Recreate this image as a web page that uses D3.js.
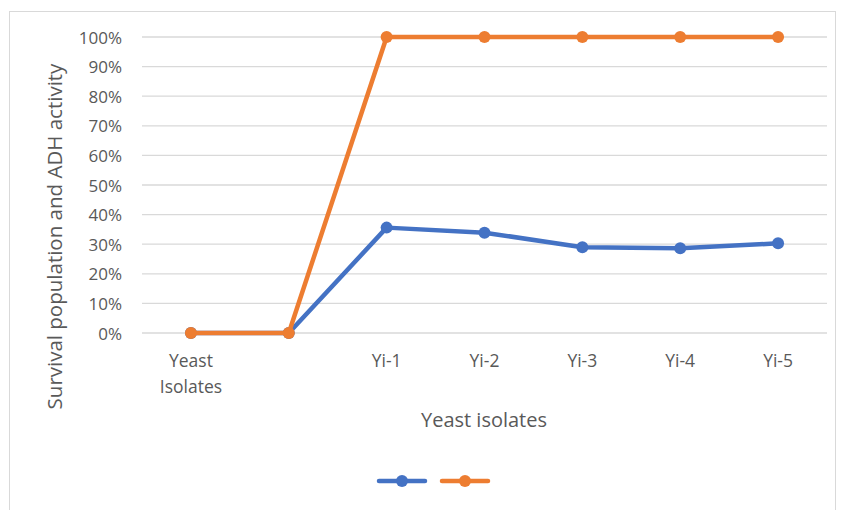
<!DOCTYPE html>
<html>
<head>
<meta charset="utf-8">
<script src="https://cdn.jsdelivr.net/npm/d3@7"></script>
<style>
  body { margin: 0; background: #fff; }
  svg text { font-family: "Open Sans", "Liberation Sans", sans-serif; fill: #595959; }
</style>
</head>
<body>
<svg id="chart" width="843" height="510"></svg>
<script>
// Category labels along the x axis
const categories = ["Yeast Isolates", "", "Yi-1", "Yi-2", "Yi-3", "Yi-4", "Yi-5"];
// Survival population (%) per isolate
const survival = [0, 0, 35.6, 33.9, 29.0, 28.6, 30.3];
// ADH activity (%) per isolate
const adhActivity = [0, 0, 100, 100, 100, 100, 100];
// Y axis ticks
const yTicks = [0, 10, 20, 30, 40, 50, 60, 70, 80, 90, 100];

const svg = d3.select("#chart");
const plot = { left: 142, right: 827, top: 37, bottom: 333 };

// Outer frame
svg.append("rect")
  .attr("x", 9.5).attr("y", 11.5)
  .attr("width", 826).attr("height", 505)
  .attr("fill", "#fff").attr("stroke", "#d9d9d9").attr("stroke-width", 1);

const x = d3.scalePoint().domain(d3.range(categories.length))
  .range([plot.left, plot.right]).padding(0.5);
const y = d3.scaleLinear().domain([0, 100]).range([plot.bottom, plot.top]);

// Horizontal gridlines
svg.append("g").selectAll("line").data(yTicks).join("line")
  .attr("x1", plot.left).attr("x2", plot.right)
  .attr("y1", d => y(d)).attr("y2", d => y(d))
  .attr("stroke", "#d9d9d9").attr("stroke-width", 1.3);

// Y axis labels
const yAxis = d3.axisLeft(y).tickValues(yTicks).tickFormat(d => d + "%").tickSize(0).tickPadding(0);
const gy = svg.append("g").attr("transform", `translate(${plot.left - 20},0)`).call(yAxis);
gy.select(".domain").remove();
gy.selectAll("text").attr("font-size", 17).attr("dy", "0.36em")
  .style("font-family", "'Open Sans', sans-serif").attr("fill", "#595959");

// X axis labels (multi-line)
const gx = svg.append("g");
categories.forEach((c, i) => {
  const words = c.split(" ");
  const t = gx.append("text").attr("x", x(i)).attr("y", 367)
    .attr("text-anchor", "middle").attr("font-size", 17.5);
  words.forEach((w, k) => {
    t.append("tspan").attr("x", x(i)).attr("dy", k === 0 ? 0 : 26).text(w);
  });
});

// Axis titles
svg.append("text").attr("x", 484).attr("y", 427)
  .attr("text-anchor", "middle").attr("font-size", 20).text("Yeast isolates");
svg.append("text")
  .attr("transform", `translate(62,236.5) rotate(-90)`)
  .attr("text-anchor", "middle").attr("font-size", 20.5)
  .text("Survival population and ADH activity");

const line = d3.line().x((d, i) => x(i)).y(d => y(d));
const series = [
  { values: survival, color: "#4472c4" },
  { values: adhActivity, color: "#ed7d31" }
];

series.forEach(s => {
  svg.append("path").datum(s.values)
    .attr("d", line).attr("fill", "none")
    .attr("stroke", s.color).attr("stroke-width", 4.5)
    .attr("stroke-linejoin", "round").attr("stroke-linecap", "round");
  svg.append("g").selectAll("circle").data(s.values).join("circle")
    .attr("cx", (d, i) => x(i)).attr("cy", d => y(d)).attr("r", 6)
    .attr("fill", s.color);
});

// Legend
const legend = svg.append("g");
series.forEach((s, i) => {
  const lx = 379 + i * 63;
  legend.append("line").attr("x1", lx).attr("x2", lx + 46)
    .attr("y1", 481).attr("y2", 481)
    .attr("stroke", s.color).attr("stroke-width", 4.5).attr("stroke-linecap", "round");
  legend.append("circle").attr("cx", lx + 23).attr("cy", 481).attr("r", 6).attr("fill", s.color);
});
</script>
</body>
</html>
